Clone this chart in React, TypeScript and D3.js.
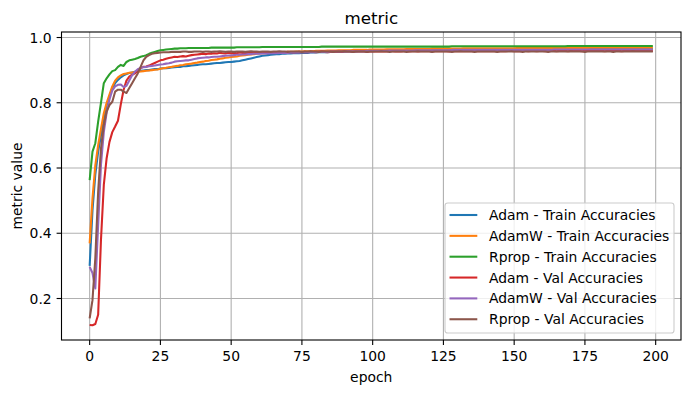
import React from "react";
import * as d3 from "d3";

const seriesLabels = [
  "Adam - Train Accuracies",
  "AdamW - Train Accuracies",
  "Rprop - Train Accuracies",
  "Adam - Val Accuracies",
  "AdamW - Val Accuracies",
  "Rprop - Val Accuracies",
];
const seriesColors = ["#1f77b4", "#ff7f0e", "#2ca02c", "#d62728", "#9467bd", "#8c564b"];

const adamTrain = [
  0.300,0.470,0.580,0.650,0.700,0.750,0.790,0.820,0.845,0.860,0.870,0.878,0.884,0.888,0.891,0.893,0.895,0.897,0.898,0.899,
  0.900,0.900,0.902,0.903,0.903,0.905,0.906,0.906,0.907,0.908,0.909,0.910,0.910,0.912,0.912,0.913,0.914,0.915,0.916,0.917,
  0.918,0.918,0.919,0.920,0.921,0.922,0.922,0.923,0.924,0.925,0.925,0.926,0.927,0.928,0.930,0.932,0.934,0.936,0.938,0.940,
  0.942,0.944,0.945,0.946,0.947,0.948,0.949,0.949,0.950,0.950,0.951,0.951,0.952,0.952,0.952,0.953,0.953,0.953,0.954,0.954,
  0.954,0.955,0.955,0.955,0.955,0.956,0.956,0.956,0.956,0.956,0.957,0.957,0.957,0.957,0.957,0.958,0.958,0.958,0.958,0.958,
  0.958,0.959,0.959,0.959,0.959,0.959,0.959,0.960,0.960,0.960,0.960,0.960,0.960,0.961,0.961,0.961,0.961,0.961,0.961,0.961,
  0.961,0.962,0.962,0.962,0.962,0.962,0.962,0.962,0.962,0.963,0.963,0.963,0.963,0.963,0.963,0.963,0.963,0.963,0.963,0.963,
  0.963,0.964,0.964,0.964,0.964,0.964,0.964,0.964,0.964,0.964,0.964,0.964,0.964,0.964,0.964,0.964,0.964,0.964,0.964,0.964,
  0.964,0.964,0.965,0.965,0.965,0.965,0.965,0.965,0.965,0.965,0.965,0.965,0.965,0.965,0.965,0.965,0.965,0.965,0.965,0.965,
  0.965,0.965,0.965,0.965,0.965,0.965,0.966,0.966,0.966,0.966,0.966,0.966,0.966,0.966,0.966,0.966,0.966,0.966,0.966,0.966,
];

const adamWTrain = [
  0.369,0.507,0.609,0.670,0.720,0.768,0.800,0.825,0.850,0.868,0.878,0.884,0.888,0.890,0.892,0.893,0.894,0.895,0.896,0.897,
  0.898,0.899,0.900,0.901,0.902,0.904,0.906,0.907,0.909,0.910,0.912,0.913,0.915,0.916,0.918,0.919,0.920,0.922,0.923,0.925,
  0.926,0.928,0.929,0.931,0.932,0.933,0.935,0.936,0.938,0.939,0.940,0.941,0.942,0.944,0.945,0.946,0.947,0.948,0.949,0.950,
  0.951,0.952,0.952,0.953,0.953,0.954,0.954,0.955,0.955,0.955,0.956,0.956,0.956,0.957,0.957,0.957,0.958,0.958,0.958,0.958,
  0.959,0.959,0.959,0.959,0.960,0.960,0.960,0.960,0.961,0.961,0.961,0.961,0.961,0.962,0.962,0.962,0.962,0.962,0.962,0.963,
  0.963,0.963,0.963,0.963,0.963,0.964,0.964,0.964,0.964,0.964,0.964,0.964,0.965,0.965,0.965,0.965,0.965,0.965,0.965,0.965,
  0.965,0.966,0.966,0.966,0.966,0.966,0.966,0.966,0.966,0.966,0.966,0.966,0.967,0.967,0.967,0.967,0.967,0.967,0.967,0.967,
  0.967,0.967,0.967,0.967,0.967,0.967,0.967,0.967,0.967,0.967,0.967,0.968,0.968,0.968,0.968,0.968,0.968,0.968,0.968,0.968,
  0.968,0.968,0.968,0.968,0.968,0.968,0.968,0.968,0.968,0.968,0.968,0.968,0.968,0.968,0.968,0.968,0.968,0.969,0.969,0.969,
  0.969,0.969,0.969,0.969,0.969,0.969,0.969,0.969,0.969,0.969,0.969,0.969,0.969,0.969,0.969,0.969,0.969,0.969,0.969,0.969,
];

const rpropTrain = [
  0.563,0.650,0.676,0.742,0.800,0.860,0.875,0.887,0.897,0.900,0.910,0.916,0.913,0.925,0.930,0.932,0.934,0.937,0.941,0.943,
  0.946,0.950,0.953,0.956,0.959,0.961,0.962,0.963,0.964,0.965,0.966,0.966,0.967,0.967,0.967,0.968,0.968,0.968,0.968,0.968,
  0.968,0.968,0.968,0.969,0.969,0.969,0.969,0.969,0.969,0.969,0.969,0.969,0.970,0.970,0.970,0.970,0.970,0.970,0.970,0.970,
  0.970,0.971,0.971,0.971,0.971,0.971,0.971,0.971,0.971,0.971,0.971,0.971,0.971,0.971,0.971,0.971,0.971,0.971,0.971,0.971,
  0.971,0.971,0.972,0.972,0.972,0.972,0.972,0.972,0.972,0.972,0.972,0.972,0.972,0.972,0.972,0.972,0.972,0.972,0.972,0.972,
  0.972,0.972,0.972,0.972,0.972,0.972,0.972,0.972,0.972,0.972,0.972,0.972,0.972,0.972,0.972,0.972,0.972,0.972,0.972,0.972,
  0.972,0.972,0.972,0.972,0.972,0.972,0.972,0.972,0.973,0.973,0.973,0.973,0.973,0.973,0.973,0.973,0.973,0.973,0.973,0.973,
  0.973,0.973,0.973,0.973,0.973,0.973,0.973,0.973,0.973,0.973,0.973,0.973,0.973,0.973,0.973,0.973,0.973,0.973,0.973,0.973,
  0.973,0.973,0.973,0.973,0.973,0.973,0.973,0.973,0.973,0.974,0.974,0.974,0.974,0.974,0.974,0.974,0.974,0.974,0.974,0.974,
  0.974,0.974,0.974,0.974,0.974,0.974,0.974,0.974,0.974,0.974,0.974,0.974,0.974,0.974,0.974,0.974,0.974,0.974,0.974,0.974,
];

const adamVal = [
  0.119,0.118,0.122,0.150,0.380,0.548,0.630,0.680,0.710,0.727,0.745,0.795,0.840,0.868,0.880,0.886,0.890,0.898,0.906,0.910,
  0.911,0.914,0.918,0.922,0.926,0.930,0.932,0.935,0.937,0.939,0.941,0.940,0.942,0.943,0.942,0.944,0.946,0.947,0.948,0.949,
  0.950,0.949,0.951,0.950,0.952,0.951,0.953,0.952,0.951,0.953,0.952,0.953,0.952,0.954,0.953,0.952,0.953,0.954,0.953,0.954,
  0.954,0.953,0.955,0.954,0.953,0.955,0.954,0.955,0.954,0.955,0.956,0.955,0.954,0.955,0.956,0.955,0.956,0.955,0.956,0.956,
  0.955,0.956,0.957,0.956,0.955,0.956,0.957,0.956,0.957,0.956,0.957,0.958,0.957,0.956,0.957,0.957,0.958,0.957,0.956,0.957,
  0.957,0.958,0.957,0.957,0.958,0.957,0.958,0.958,0.957,0.958,0.957,0.958,0.958,0.957,0.958,0.958,0.957,0.958,0.958,0.958,
  0.958,0.957,0.958,0.958,0.959,0.958,0.958,0.957,0.958,0.958,0.959,0.958,0.958,0.958,0.959,0.958,0.958,0.959,0.958,0.958,
  0.959,0.958,0.958,0.959,0.958,0.959,0.958,0.958,0.959,0.959,0.958,0.959,0.958,0.959,0.959,0.958,0.959,0.959,0.958,0.959,
  0.959,0.958,0.959,0.959,0.959,0.958,0.959,0.959,0.959,0.958,0.959,0.959,0.959,0.959,0.958,0.959,0.959,0.959,0.959,0.959,
  0.959,0.959,0.958,0.959,0.959,0.959,0.959,0.959,0.958,0.959,0.959,0.959,0.959,0.959,0.959,0.959,0.959,0.959,0.959,0.959,
];

const adamWVal = [
  0.297,0.278,0.231,0.425,0.610,0.710,0.770,0.810,0.838,0.850,0.855,0.856,0.848,0.852,0.868,0.884,0.895,0.903,0.907,0.909,
  0.910,0.912,0.913,0.914,0.916,0.917,0.918,0.920,0.921,0.923,0.926,0.927,0.928,0.929,0.930,0.930,0.932,0.934,0.936,0.937,
  0.938,0.939,0.939,0.940,0.941,0.941,0.942,0.943,0.944,0.945,0.945,0.946,0.947,0.947,0.948,0.948,0.949,0.949,0.950,0.950,
  0.950,0.951,0.951,0.951,0.952,0.952,0.952,0.953,0.953,0.953,0.953,0.954,0.954,0.954,0.954,0.955,0.955,0.955,0.955,0.955,
  0.956,0.956,0.956,0.956,0.956,0.957,0.957,0.957,0.957,0.957,0.957,0.958,0.958,0.958,0.958,0.958,0.958,0.958,0.959,0.959,
  0.959,0.959,0.959,0.959,0.959,0.959,0.960,0.960,0.960,0.960,0.960,0.960,0.960,0.960,0.960,0.961,0.961,0.961,0.961,0.961,
  0.961,0.961,0.961,0.961,0.961,0.961,0.961,0.961,0.962,0.962,0.962,0.962,0.962,0.962,0.962,0.962,0.962,0.962,0.962,0.962,
  0.962,0.962,0.962,0.962,0.962,0.962,0.962,0.962,0.962,0.962,0.962,0.962,0.962,0.962,0.962,0.962,0.962,0.962,0.962,0.962,
  0.962,0.962,0.962,0.962,0.963,0.963,0.963,0.963,0.963,0.963,0.963,0.963,0.963,0.963,0.963,0.963,0.963,0.963,0.963,0.963,
  0.963,0.963,0.963,0.963,0.963,0.963,0.963,0.963,0.963,0.963,0.963,0.963,0.963,0.963,0.963,0.963,0.963,0.963,0.963,0.963,
];

const rpropVal = [
  0.139,0.195,0.324,0.527,0.660,0.732,0.773,0.793,0.803,0.834,0.840,0.840,0.834,0.830,0.845,0.860,0.875,0.890,0.910,0.930,
  0.941,0.946,0.950,0.952,0.953,0.954,0.955,0.955,0.955,0.956,0.956,0.956,0.956,0.957,0.957,0.956,0.956,0.957,0.957,0.957,
  0.956,0.957,0.957,0.956,0.957,0.957,0.958,0.957,0.956,0.957,0.957,0.956,0.957,0.957,0.957,0.956,0.957,0.958,0.957,0.957,
  0.956,0.957,0.957,0.957,0.956,0.957,0.957,0.958,0.957,0.957,0.956,0.957,0.957,0.957,0.957,0.956,0.957,0.957,0.958,0.957,
  0.957,0.956,0.957,0.957,0.957,0.957,0.956,0.957,0.957,0.957,0.958,0.957,0.957,0.956,0.957,0.957,0.957,0.957,0.956,0.957,
  0.957,0.957,0.957,0.958,0.957,0.957,0.956,0.957,0.957,0.957,0.957,0.957,0.956,0.957,0.957,0.957,0.958,0.957,0.957,0.957,
  0.957,0.956,0.957,0.957,0.957,0.957,0.957,0.957,0.956,0.957,0.957,0.958,0.957,0.957,0.957,0.957,0.956,0.957,0.957,0.957,
  0.957,0.957,0.957,0.957,0.956,0.957,0.957,0.957,0.957,0.958,0.957,0.957,0.957,0.956,0.957,0.957,0.957,0.957,0.957,0.957,
  0.957,0.957,0.956,0.957,0.957,0.957,0.957,0.957,0.957,0.957,0.958,0.957,0.957,0.957,0.957,0.956,0.957,0.957,0.957,0.957,
  0.957,0.957,0.957,0.957,0.957,0.956,0.957,0.957,0.957,0.957,0.957,0.957,0.958,0.957,0.957,0.957,0.957,0.957,0.957,0.957,
];

const allSeries = [adamTrain, adamWTrain, rpropTrain, adamVal, adamWVal, rpropVal];
const xTicks = [0, 25, 50, 75, 100, 125, 150, 175, 200];
const yTicks = [0.2, 0.4, 0.6, 0.8, 1.0];

const W = 691;
const H = 393;
const plot = { left: 61.5, right: 681, top: 32, bottom: 340 };
const FONT = "'DejaVu Sans', sans-serif";
const FS = 13.9;

export default function App() {
  const n = adamTrain.length;
  const xPad = (n - 1) * 0.05;
  const x = d3.scaleLinear().domain([-xPad, n - 1 + xPad]).range([plot.left, plot.right]);
  const y = d3.scaleLinear().domain([0.0728, 1.0169]).range([plot.bottom, plot.top]);
  const line = d3
    .line<number>()
    .x((_, i) => x(i))
    .y((d) => y(d));

  const legend = { left: 445, right: 674, top: 203, bottom: 333 };
  const rowY = (i: number) => 215 + i * 20.85;

  return (
    <svg
      width={W}
      height={H}
      style={{ position: "absolute", left: 0, top: 0, background: "#fff" }}
      fontFamily={FONT}
    >
      <rect x={0} y={0} width={W} height={H} fill="#fff" />
      {/* grid */}
      {xTicks.map((t) => (
        <line key={"gx" + t} x1={x(t)} x2={x(t)} y1={plot.top} y2={plot.bottom} stroke="#b0b0b0" strokeWidth={1.1} />
      ))}
      {yTicks.map((t) => (
        <line key={"gy" + t} x1={plot.left} x2={plot.right} y1={y(t)} y2={y(t)} stroke="#b0b0b0" strokeWidth={1.1} />
      ))}
      {/* lines */}
      <defs>
        <clipPath id="plotclip">
          <rect x={plot.left} y={plot.top} width={plot.right - plot.left} height={plot.bottom - plot.top} />
        </clipPath>
      </defs>
      <g clipPath="url(#plotclip)">
        {allSeries.map((s, i) => (
          <path
            key={"s" + i}
            d={line(s) || ""}
            fill="none"
            stroke={seriesColors[i]}
            strokeWidth={2.08}
            strokeLinejoin="round"
            strokeLinecap="butt"
          />
        ))}
      </g>
      {/* spines */}
      <rect
        x={plot.left}
        y={plot.top}
        width={plot.right - plot.left}
        height={plot.bottom - plot.top}
        fill="none"
        stroke="#000"
        strokeWidth={1.1}
      />
      {/* x ticks */}
      {xTicks.map((t) => (
        <g key={"xt" + t}>
          <line x1={x(t)} x2={x(t)} y1={plot.bottom} y2={plot.bottom + 4.9} stroke="#000" strokeWidth={1.1} />
          <text x={x(t)} y={plot.bottom + 21} textAnchor="middle" fontSize={FS} fill="#000">
            {t}
          </text>
        </g>
      ))}
      {/* y ticks */}
      {yTicks.map((t) => (
        <g key={"yt" + t}>
          <line x1={plot.left - 4.9} x2={plot.left} y1={y(t)} y2={y(t)} stroke="#000" strokeWidth={1.1} />
          <text x={plot.left - 9.8} y={y(t) + 5} textAnchor="end" fontSize={FS} fill="#000">
            {d3.format(".1f")(t)}
          </text>
        </g>
      ))}
      {/* labels */}
      <text x={(plot.left + plot.right) / 2} y={382} textAnchor="middle" fontSize={FS} fill="#000">
        epoch
      </text>
      <text
        transform={`translate(22, ${(plot.top + plot.bottom) / 2}) rotate(-90)`}
        textAnchor="middle"
        fontSize={FS}
        fill="#000"
      >
        metric value
      </text>
      <text x={(plot.left + plot.right) / 2} y={23.5} textAnchor="middle" fontSize={16.7} fill="#000">
        metric
      </text>
      {/* legend */}
      <rect
        x={legend.left}
        y={legend.top}
        width={legend.right - legend.left}
        height={legend.bottom - legend.top}
        rx={2.8}
        fill="#fff"
        fillOpacity={0.8}
        stroke="#cccccc"
        strokeWidth={1.1}
      />
      {seriesLabels.map((lab, i) => (
        <g key={"lg" + i}>
          <line x1={449.5} x2={477.3} y1={rowY(i)} y2={rowY(i)} stroke={seriesColors[i]} strokeWidth={2.08} />
          <text x={489} y={rowY(i) + 5} fontSize={FS} fill="#000">
            {lab}
          </text>
        </g>
      ))}
    </svg>
  );
}
